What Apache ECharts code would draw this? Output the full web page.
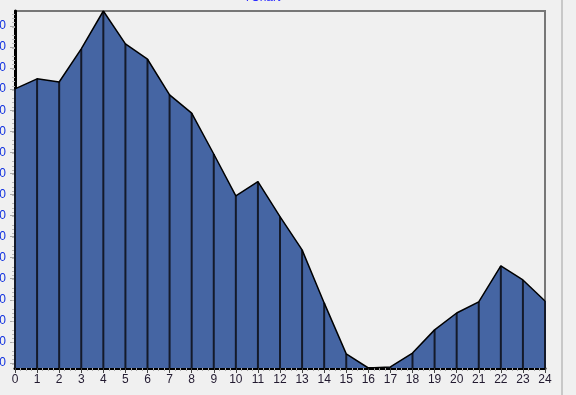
<!DOCTYPE html>
<html>
<head>
<meta charset="utf-8">
<script src="https://cdn.jsdelivr.net/npm/echarts@6/dist/echarts.min.js"></script>
<style>html,body{margin:0;padding:0;background:#f0f0f0;}#c{width:576px;height:395px;}</style>
</head>
<body>
<div id="c"></div>
<script>
var hours = [0,1,2,3,4,5,6,7,8,9,10,11,12,13,14,15,16,17,18,19,20,21,22,23,24];
var values = [130.1,134.9,133.4,149.1,167.1,151.5,144.2,127.3,118.6,99.2,79.3,86.1,69.5,53.7,28.5,4.3,-2.4,-1.9,4.7,15.7,23.7,29.0,46.1,39.4,29.4];
var yTicks = [0,10,20,30,40,50,60,70,80,90,100,110,120,130,140,150,160];
var xTicks = hours;
var titleText = 'TChart';

var yMin = Math.min.apply(null, values);
var yMax = Math.max.apply(null, values);
var pts = hours.map(function(h, i){ return [h, values[i]]; });

var chart = echarts.init(document.getElementById('c'), null, {renderer:'canvas'});
chart.setOption({
  backgroundColor: '#f0f0f0',
  animation: false,
  graphic: [
    {type:'rect', shape:{x:561, y:0, width:2, height:395}, style:{fill:'#c8c8c8'}, silent:true},
    {type:'text', x:262, y:4, style:{text:titleText, fill:'#2a2aff', font:'12px "Liberation Sans"', textAlign:'center', textVerticalAlign:'bottom'}}
  ],
  grid: {left:15, right:31, top:11, bottom:27, containLabel:false, outerBoundsMode:'none', show:true, borderColor:'#777', borderWidth:2, backgroundColor:'transparent'},
  xAxis: {
    type:'value', min:0, max:24, interval:1,
    axisLine:{show:true, onZero:false, lineStyle:{color:'#000', width:3}},
    axisTick:{show:true, length:5, lineStyle:{color:'#444', width:1}},
    minorTick:{show:true, splitNumber:4, length:3, lineStyle:{color:'#aaa', width:1}},
    splitLine:{show:false},
    axisLabel:{color:'#221a30', fontSize:12, fontFamily:'Liberation Sans', margin:6, customValues:xTicks}
  },
  yAxis: {
    type:'value', min:yMin, max:yMax, interval:10,
    axisLine:{show:true, onZero:false, lineStyle:{color:'#000', width:3}},
    axisTick:{show:true, length:5, lineStyle:{color:'#aaa', width:1}, customValues:yTicks},
    minorTick:{show:true, splitNumber:5, length:3, lineStyle:{color:'#bbb', width:1}},
    splitLine:{show:false},
    axisLabel:{color:'#1030e0', fontSize:12, fontFamily:'Liberation Sans', margin:9, customValues:yTicks}
  },
  series: [
    {type:'line', data:pts, symbol:'none', z:1, lineStyle:{width:0, opacity:0},
     areaStyle:{color:'#4565a3', opacity:1, origin:'start'}},
    {type:'custom', z:2, data:pts, renderItem:function(params, api){
       var top = api.coord([api.value(0), api.value(1)]);
       var bot = api.coord([api.value(0), yMin]);
       return {type:'line', shape:{x1:top[0], y1:top[1], x2:bot[0], y2:bot[1]}, style:{stroke:'#141a2a', lineWidth:2}};
    }},
    {type:'line', data:pts, symbol:'none', z:3, lineStyle:{color:'#000', width:1.5}}
  ]
});
</script>
</body>
</html>
